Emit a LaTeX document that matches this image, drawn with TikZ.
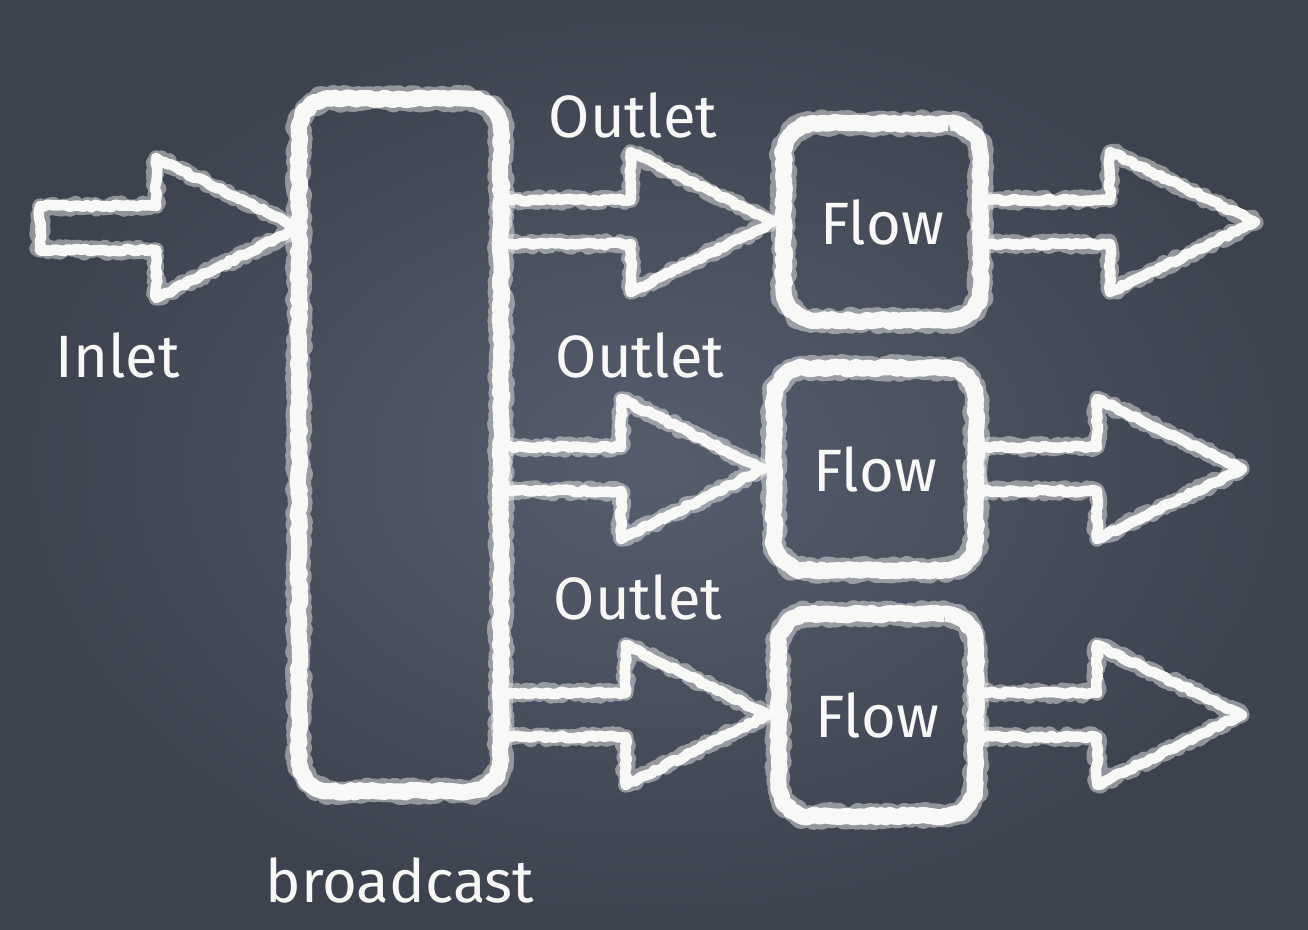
\documentclass[tikz,border=0pt]{standalone}
\usepackage{fontspec}
\setmainfont{Fira Sans}
\usetikzlibrary{calc,decorations.pathmorphing}

\definecolor{boardmid}{RGB}{86,93,109}
\definecolor{boardedge}{RGB}{60,66,78}
\definecolor{chalk}{RGB}{248,248,246}

\tikzset{
  chalkstroke/.style={draw=chalk, line width=#1, sharp corners, line join=round,
    decorate, decoration={random steps, segment length=1.2pt, amplitude=0.4pt}},
  chalkfuzz/.style={draw=chalk, opacity=0.45, line width=#1, sharp corners, line join=round,
    decorate, decoration={random steps, segment length=0.7pt, amplitude=0.9pt}},
  chalkbox/.style={rounded corners=9pt, postaction={chalkfuzz=6.2pt},
    postaction={chalkstroke=4.6pt}, text=chalk, font=\fontsize{17}{20}\selectfont},
  arrowline/.style={postaction={chalkfuzz=4.4pt}, postaction={chalkstroke=3pt}},
  chalktext/.style={text=chalk, font=\fontsize{17}{20}\selectfont},
}

% block arrow from tail #2 to tip #3, #1 = head length
\newcommand{\blockarrow}[3][142]{%
  \path[arrowline] ($(#2)+(0,-22)$) -- ($(#3)+(-#1,-22)$) -- ++(0,-48) -- (#3)
    -- ($(#3)+(-#1,70)$) -- ++(0,-48) -- ($(#2)+(0,22)$) -- cycle;}

\begin{document}
\begin{tikzpicture}[x=0.01cm, y=-0.01cm]
  \useasboundingbox (0,0) rectangle (1308,930);
  \shade[inner color=boardmid, outer color=boardedge] (0,0) rectangle (1308,930);

  % boxes
  \node[chalkbox, minimum width=2.02cm, minimum height=6.92cm] (broadcast) at (400,445) {};
  \node[chalkbox, minimum width=1.97cm, minimum height=1.97cm] (flow1) at (882,222) {Flow};
  \node[chalkbox, minimum width=2.02cm, minimum height=2.02cm] (flow2) at (875,469) {Flow};
  \node[chalkbox, minimum width=1.97cm, minimum height=2.02cm] (flow3) at (877,715) {Flow};

  % labels
  \node[chalktext] (inlet) at (118,355) {Inlet};
  \node[chalktext] (outlet1) at (633,115) {Outlet};
  \node[chalktext] (outlet2) at (640,355) {Outlet};
  \node[chalktext] (outlet3) at (638,597) {Outlet};
  \node[chalktext] (bclabel) at (400,880) {broadcast};

  % arrow ends
  \coordinate (in) at (40,228);
  \coordinate (intip) at (broadcast.west |- in);
  \coordinate (o1) at (broadcast.east |- flow1.west);
  \coordinate (o2) at (broadcast.east |- flow2.west);
  \coordinate (o3) at (broadcast.east |- flow3.west);
  \coordinate (f1) at ($(flow1.west)+(-10,0)$);
  \coordinate (f2) at ($(flow2.west)+(-10,0)$);
  \coordinate (f3) at ($(flow3.west)+(-10,0)$);
  \coordinate (out1) at (1255,222);
  \coordinate (out2) at (1242,469);
  \coordinate (out3) at (1242,715);

  % arrows
  \blockarrow{in}{intip}
  \blockarrow{o1}{f1}
  \blockarrow{o2}{f2}
  \blockarrow{o3}{f3}
  \blockarrow[145]{flow1.east}{out1}
  \blockarrow[145]{flow2.east}{out2}
  \blockarrow[145]{flow3.east}{out3}
\end{tikzpicture}
\end{document}
